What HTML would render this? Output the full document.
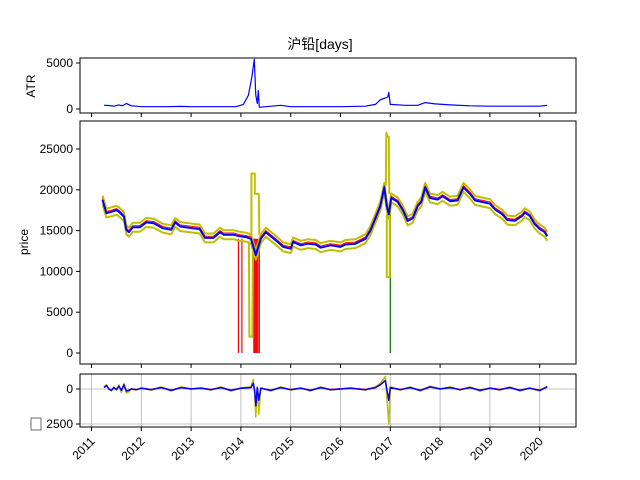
<!DOCTYPE html>
<html><head><meta charset="utf-8"><style>
html,body{margin:0;padding:0;background:#fff;}
svg{display:block;font-family:"Liberation Sans","Noto Sans CJK SC",sans-serif;}
</style></head><body>
<svg id="chart" width="640" height="480" viewBox="0 0 640 480"></svg>
<script>
// ---- data ----
const dates = [2011.22,2011.3,2011.4,2011.5,2011.55,2011.65,2011.7,2011.75,2011.83,2011.97,2012.1,2012.25,2012.43,2012.6,2012.68,2012.78,2013.03,2013.17,2013.28,2013.45,2013.58,2013.65,2013.85,2013.98,2014.1,2014.2,2014.3,2014.4,2014.5,2014.6,2014.7,2014.85,2015.0,2015.05,2015.2,2015.35,2015.5,2015.6,2015.8,2016.0,2016.1,2016.3,2016.5,2016.6,2016.7,2016.8,2016.88,2016.93,2016.97,2017.02,2017.15,2017.25,2017.35,2017.45,2017.55,2017.62,2017.7,2017.8,2017.95,2018.05,2018.2,2018.35,2018.47,2018.6,2018.7,2018.85,2019.0,2019.1,2019.25,2019.35,2019.5,2019.65,2019.7,2019.8,2019.9,2020.0,2020.1,2020.15];
const closes = [18750,17150,17300,17500,17300,16700,15100,14800,15400,15400,16000,15900,15300,15100,16000,15500,15300,15200,14100,14100,14800,14500,14500,14300,14200,14000,12000,14000,14800,14300,13800,13000,12800,13600,13200,13400,13300,12900,13200,13000,13300,13400,14000,15000,16500,18000,20300,18000,17000,19000,18500,17500,16200,16500,18000,18500,20300,19000,18800,19200,18600,18700,20300,19500,18700,18500,18300,17600,17000,16300,16200,16800,17200,16800,15800,15200,14800,14300];
const bandHalf = 550;
const upperSpikeDates = [2014.16,2014.17,2014.21,2014.21,2014.28,2014.28,2014.36,2014.37];
const upperSpikeValues = [14500,14500,14500,22000,22000,19500,19500,14500];
const lowerSpikeDates = [2014.16,2014.17,2014.23,2014.24,2014.26];
const lowerSpikeValues = [13500,2000,2000,13000,13000];
const upper2Dates = [2016.91,2016.92,2016.95,2016.97,2016.98];
const upper2Values = [20500,27000,26500,26500,19500];
const lower2Dates = [2016.93,2016.93,2016.99,2016.99];
const lower2Values = [17000,9300,9300,18000];
const redSpikes = [2013.95,2014.02,2014.26,2014.28,2014.3,2014.32,2014.34,2014.37];
const greenSpikes = [2017.0];
const atrDates = [2011.25,2011.35,2011.45,2011.55,2011.62,2011.7,2011.8,2012.0,2012.5,2012.8,2013.0,2013.5,2013.9,2014.05,2014.15,2014.22,2014.27,2014.3,2014.33,2014.35,2014.37,2014.5,2014.8,2015.0,2015.5,2016.0,2016.5,2016.7,2016.8,2016.9,2016.95,2016.97,2017.0,2017.3,2017.55,2017.7,2017.9,2018.2,2018.6,2019.0,2019.5,2020.0,2020.15];
const atrValues = [400,380,300,450,350,600,350,250,250,280,250,250,250,500,1500,3500,5400,1500,600,2000,200,250,400,250,250,250,300,500,1000,1200,1300,1800,500,400,400,700,550,450,350,300,300,300,400];
const oscDates = [2011.25,2011.3,2011.35,2011.4,2011.45,2011.5,2011.55,2011.6,2011.65,2011.7,2011.75,2011.8,2011.9,2012.0,2012.2,2012.4,2012.6,2012.8,2013.0,2013.2,2013.4,2013.6,2013.8,2014.0,2014.2,2014.25,2014.28,2014.3,2014.33,2014.36,2014.4,2014.6,2014.8,2015.0,2015.2,2015.4,2015.6,2015.8,2016.0,2016.2,2016.5,2016.7,2016.8,2016.9,2016.97,2017.0,2017.2,2017.4,2017.6,2017.8,2018.0,2018.2,2018.4,2018.6,2018.8,2019.0,2019.2,2019.4,2019.6,2019.8,2020.0,2020.15];
const oscBlue = [100,250,0,-100,100,-50,200,-100,300,-150,-100,0,-50,50,-50,100,-100,100,0,50,-50,100,-100,50,100,400,-200,-1200,100,-800,50,-100,100,-50,50,-100,100,-50,0,50,-50,100,300,600,-800,100,-50,100,-100,150,0,100,-50,100,-100,50,-50,100,-100,50,-100,150];
const oscYellow = [100,300,0,-150,150,-80,300,-250,400,-300,-200,0,-80,80,-80,150,-150,150,0,80,-80,150,-150,80,150,700,-400,-2000,150,-1800,80,-150,150,-80,80,-150,150,-80,0,80,-80,150,400,900,-2500,150,-80,150,-150,200,0,150,-80,150,-150,80,-80,150,-150,80,-150,200];
const years = [2011,2012,2013,2014,2015,2016,2017,2018,2019,2020];

// ---- scales ----
const L=80,R=576;
const x=d=>91.5+(d-2011)*49.8;
const yTop=v=>109-v*(46/5000);
const yMid=v=>353-v*(204/25000);
const yBot=v=>389-v*(35/2500);
const svg=document.getElementById('chart');
const NS='http://www.w3.org/2000/svg';
function mk(tag,attrs,parent){const e=document.createElementNS(NS,tag);for(const k in attrs)e.setAttribute(k,attrs[k]);(parent||svg).appendChild(e);return e;}
function poly(xs,ys,fx,fy,color,w,name,parent){const p=mk('polyline',{points:xs.map((d,i)=>fx(d).toFixed(1)+','+fy(ys[i]).toFixed(1)).join(' '),fill:'none',stroke:color,'stroke-width':w,'stroke-linejoin':'round'},parent);

return p;}
function txt(s,xx,yy,anchor,size,parent,extra){const t=mk('text',Object.assign({x:xx,y:yy,'text-anchor':anchor,'font-size':size,fill:'#000'},extra||{}),parent);t.textContent=s;return t;}

const title=txt('沪铅[days]',320,49,'middle',14);



// ---- top panel ----
const gT=mk('g',{});


poly(atrDates,atrValues,x,yTop,'#0000ff',1.2,'atr-line',gT);
mk('rect',{x:L,y:58,width:R-L,height:55,fill:'none',stroke:'#000','stroke-width':1},gT);
[0,5000].forEach(v=>{mk('line',{x1:L-4,x2:L,y1:yTop(v),y2:yTop(v),stroke:'#000'},gT);txt(String(v),L-7,yTop(v)+4,'end',12,gT);});
years.forEach(yr=>mk('line',{x1:x(yr),x2:x(yr),y1:113,y2:117,stroke:'#000'},gT));
const atrLab=txt('ATR',35,86,'middle',12,gT,{transform:'rotate(-90 35 86)'});



// ---- middle panel ----
const gM=mk('g',{});


redSpikes.forEach(d=>{const l=mk('line',{x1:x(d),x2:x(d),y1:yMid(0),y2:yMid(14000),stroke:'#ff0000','stroke-width':1.2},gM);

});
greenSpikes.forEach(d=>{const l=mk('line',{x1:x(d),x2:x(d),y1:yMid(0),y2:yMid(18000),stroke:'#007700','stroke-width':1.2},gM);

});
poly(dates,closes.map(v=>v+bandHalf),x,yMid,'#bfbf00',2,'upper-band',gM);
poly(dates,closes.map(v=>v-bandHalf),x,yMid,'#bfbf00',2,'lower-band',gM);
poly(upperSpikeDates,upperSpikeValues,x,yMid,'#bfbf00',2,'upper-band-spike-2014',gM);
poly(lowerSpikeDates,lowerSpikeValues,x,yMid,'#bfbf00',2,'lower-band-spike-2014',gM);
poly(upper2Dates,upper2Values,x,yMid,'#bfbf00',2,'upper-band-spike-2017',gM);
poly(lower2Dates,lower2Values,x,yMid,'#bfbf00',2,'lower-band-spike-2017',gM);
poly(dates,closes.map(v=>v+200),x,yMid,'#ff0000',1,'close-red',gM);
poly(dates,closes,x,yMid,'#0000ff',2,'moving-average',gM);
mk('rect',{x:L,y:121,width:R-L,height:243,fill:'none',stroke:'#000','stroke-width':1},gM);
[0,5000,10000,15000,20000,25000].forEach(v=>{mk('line',{x1:L-4,x2:L,y1:yMid(v),y2:yMid(v),stroke:'#000'},gM);txt(String(v),L-7,yMid(v)+4,'end',12,gM);});
years.forEach(yr=>mk('line',{x1:x(yr),x2:x(yr),y1:364,y2:368,stroke:'#000'},gM));
const pLab=txt('price',28,242,'middle',12,gM,{transform:'rotate(-90 28 242)'});



// ---- bottom panel ----
const gB=mk('g',{});


years.forEach(yr=>mk('line',{x1:x(yr),x2:x(yr),y1:374,y2:427,stroke:'#b0b0b0','stroke-width':0.8},gB));
[0,-2500].forEach(v=>mk('line',{x1:L,x2:R,y1:yBot(v),y2:yBot(v),stroke:'#b0b0b0','stroke-width':0.8},gB));
poly(oscDates,oscYellow,x,yBot,'#bfbf00',1.5,'oscillator-yellow',gB);
poly(oscDates,oscBlue.map(v=>v+30),x,yBot,'#ff0000',1,'oscillator-red',gB);
poly(oscDates,oscBlue,x,yBot,'#0000ff',1.5,'oscillator-blue',gB);
mk('rect',{x:L,y:374,width:R-L,height:53,fill:'none',stroke:'#000','stroke-width':1},gB);
mk('line',{x1:L-4,x2:L,y1:yBot(0),y2:yBot(0),stroke:'#000'},gB);txt('0',L-7,yBot(0)+4,'end',12,gB);
mk('line',{x1:L-4,x2:L,y1:yBot(-2500),y2:yBot(-2500),stroke:'#000'},gB);
mk('rect',{x:31,y:418,width:10,height:12,fill:'none',stroke:'#444','stroke-width':0.8},gB);
txt('2500',L-7,yBot(-2500)+4,'end',12,gB);
years.forEach(yr=>{mk('line',{x1:x(yr),x2:x(yr),y1:427,y2:431,stroke:'#000'},gB);
const t=txt(String(yr),x(yr)+4,442,'end',12,gB,{transform:'rotate(-45 '+(x(yr)+4)+' 442)'});

});
</script>
</body></html>
